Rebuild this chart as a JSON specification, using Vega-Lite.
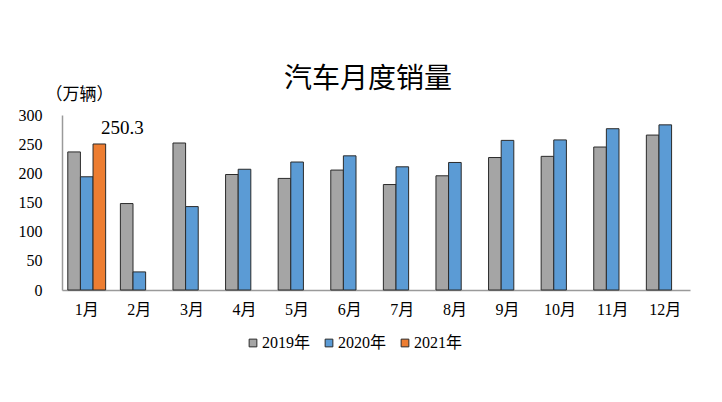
{
  "$schema": "https://vega.github.io/schema/vega-lite/v6.json",
  "width": 628,
  "height": 175,
  "autosize": {"type": "none"},
  "padding": {"left": 62, "top": 115, "right": 32, "bottom": 112},
  "background": "white",
  "title": {
    "text": "汽车月度销量",
    "font": "Noto Sans CJK SC",
    "fontSize": 28,
    "fontWeight": "normal",
    "color": "#000000",
    "anchor": "middle",
    "offset": -9,
    "dx": -8
  },
  "config": {
    "view": {"stroke": null},
    "font": "Liberation Serif, Noto Sans CJK SC"
  },
  "data": {
    "values": [
      {"month": "1月", "year": "2019年", "sales": 236.7},
      {"month": "1月", "year": "2020年", "sales": 194.1},
      {"month": "1月", "year": "2021年", "sales": 250.3},
      {"month": "2月", "year": "2019年", "sales": 148.2},
      {"month": "2月", "year": "2020年", "sales": 31.0},
      {"month": "3月", "year": "2019年", "sales": 252.0},
      {"month": "3月", "year": "2020年", "sales": 143.0},
      {"month": "4月", "year": "2019年", "sales": 198.0},
      {"month": "4月", "year": "2020年", "sales": 207.0},
      {"month": "5月", "year": "2019年", "sales": 191.3},
      {"month": "5月", "year": "2020年", "sales": 219.4},
      {"month": "6月", "year": "2019年", "sales": 205.6},
      {"month": "6月", "year": "2020年", "sales": 230.0},
      {"month": "7月", "year": "2019年", "sales": 180.8},
      {"month": "7月", "year": "2020年", "sales": 211.2},
      {"month": "8月", "year": "2019年", "sales": 195.8},
      {"month": "8月", "year": "2020年", "sales": 218.6},
      {"month": "9月", "year": "2019年", "sales": 227.1},
      {"month": "9月", "year": "2020年", "sales": 256.5},
      {"month": "10月", "year": "2019年", "sales": 229.1},
      {"month": "10月", "year": "2020年", "sales": 257.3},
      {"month": "11月", "year": "2019年", "sales": 245.1},
      {"month": "11月", "year": "2020年", "sales": 276.5},
      {"month": "12月", "year": "2019年", "sales": 265.6},
      {"month": "12月", "year": "2020年", "sales": 283.1}
    ]
  },
  "encoding": {
    "x": {
      "field": "month",
      "type": "nominal",
      "sort": null,
      "scale": {"paddingInner": 0.28, "paddingOuter": 0.11},
      "axis": {
        "title": null,
        "labelAngle": 0,
        "ticks": false,
        "domainColor": "#9a9a9a",
        "domainWidth": 1.5,
        "labelFontSize": 16,
        "labelColor": "#000000",
        "labelPadding": 11,
        "labelFont": "Liberation Serif, Noto Sans CJK SC"
      }
    },
    "xOffset": {
      "field": "year",
      "type": "nominal",
      "scale": {"paddingInner": 0, "domain": ["2019年", "2020年", "2021年"]}
    },
    "y": {
      "field": "sales",
      "type": "quantitative",
      "scale": {"domain": [0, 300], "nice": false},
      "axis": {
        "title": "（万辆）",
        "titleAngle": 0,
        "titleAlign": "left",
        "titleBaseline": "middle",
        "titleX": -17,
        "titleY": -21,
        "titleFont": "Noto Sans CJK SC",
        "titleFontSize": 17,
        "titleFontWeight": "normal",
        "titleColor": "#000000",
        "values": [0, 50, 100, 150, 200, 250, 300],
        "grid": false,
        "ticks": false,
        "domainColor": "#9a9a9a",
        "domainWidth": 1.5,
        "labelFontSize": 16,
        "labelColor": "#000000",
        "labelPadding": 20,
        "labelFont": "Liberation Serif"
      }
    }
  },
  "layer": [
    {
      "mark": {"type": "bar", "stroke": "#2b2b2b", "strokeWidth": 1},
      "encoding": {
        "color": {
          "field": "year",
          "type": "nominal",
          "scale": {
            "domain": ["2019年", "2020年", "2021年"],
            "range": ["#A5A5A5", "#5B9BD5", "#ED7D31"]
          },
          "legend": {
            "title": null,
            "orient": "none",
            "direction": "horizontal",
            "legendX": 183,
            "legendY": 220,
            "symbolType": "square",
            "symbolSize": 60,
            "symbolStrokeColor": "#2b2b2b",
            "symbolStrokeWidth": 1,
            "labelFontSize": 16,
            "labelColor": "#000000",
            "labelFont": "Liberation Serif, Noto Sans CJK SC",
            "labelOffset": 1,
            "columnSpacing": 18
          }
        }
      }
    },
    {
      "transform": [{"filter": "datum.year == '2021年'"}],
      "mark": {
        "type": "text",
        "dx": 23,
        "dy": -6,
        "fontSize": 19,
        "font": "Liberation Serif",
        "color": "#000000",
        "baseline": "bottom"
      },
      "encoding": {
        "text": {"field": "sales", "type": "quantitative", "format": ".1f"}
      }
    }
  ]
}
